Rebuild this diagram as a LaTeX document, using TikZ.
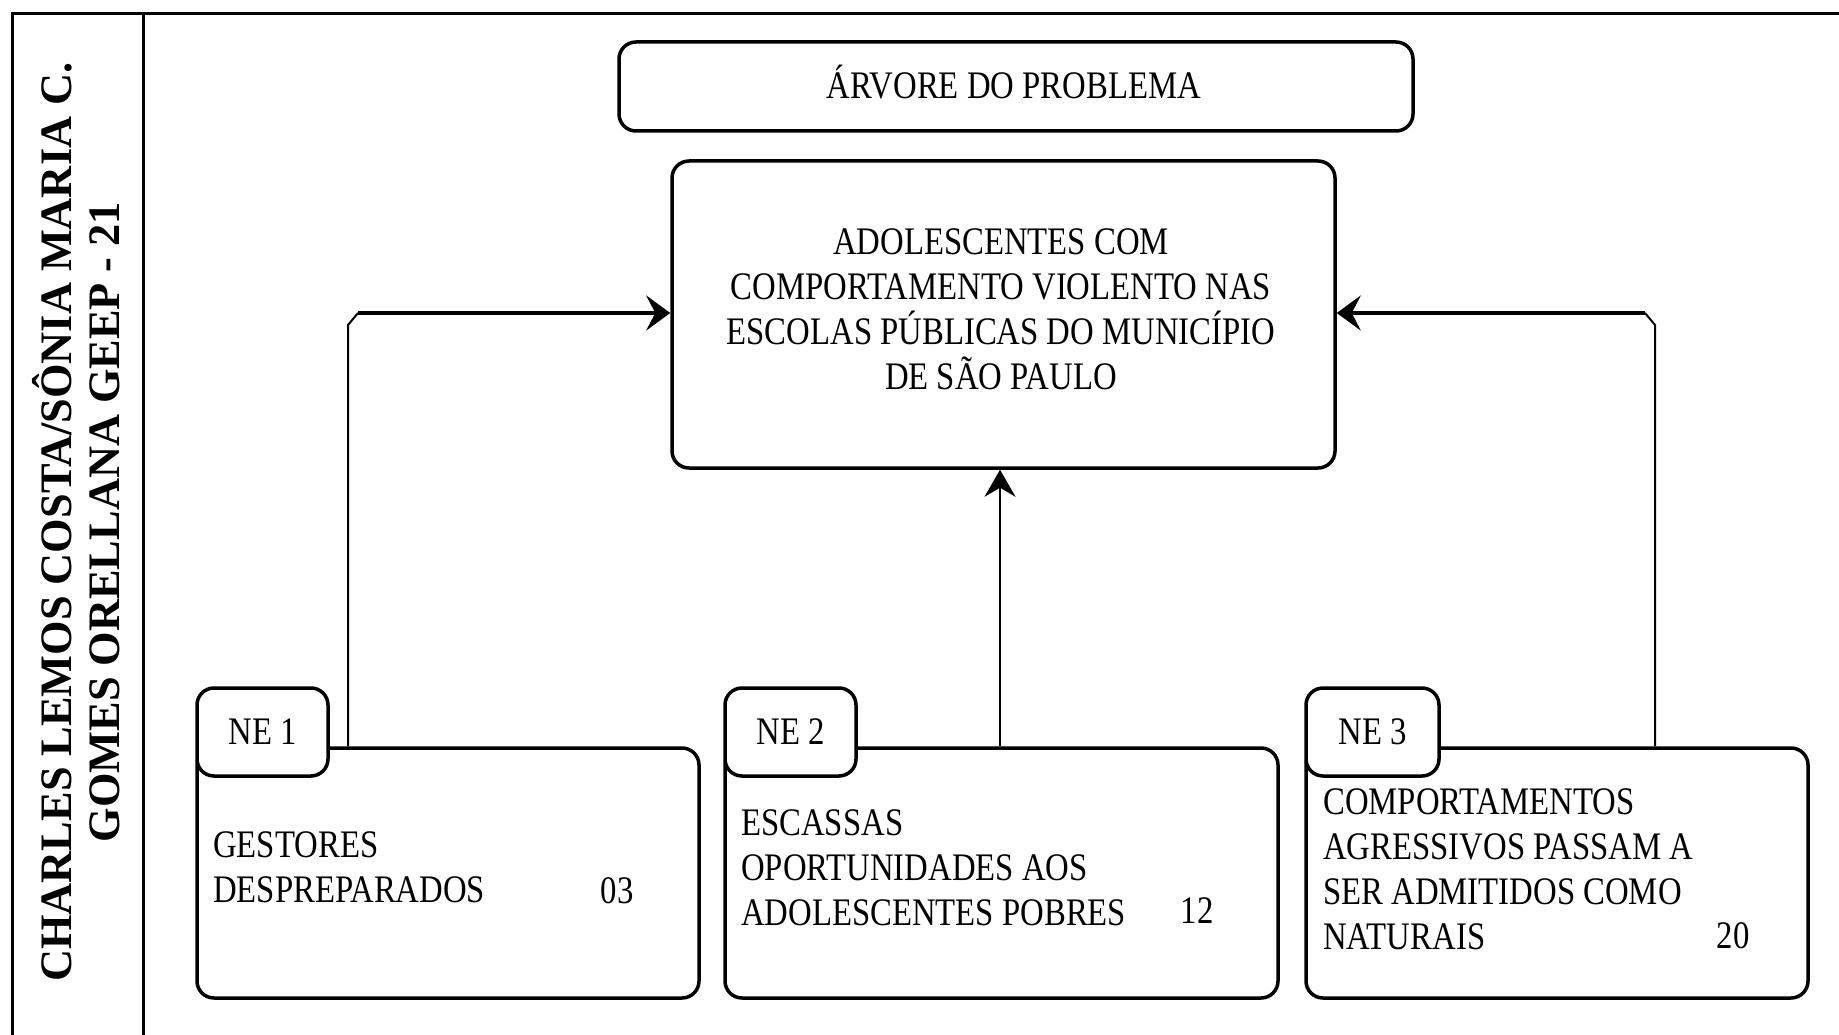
\documentclass[tikz,border=0pt]{standalone}
\usepackage{fontspec}
\setmainfont{Liberation Serif}
\newfontfamily\boxfont[FakeStretch=0.84]{Liberation Serif}
\newfontfamily\sidefont[FakeStretch=0.985]{Liberation Serif}
\usetikzlibrary{arrows.meta}
\begin{document}
\begin{tikzpicture}[x=1pt,y=-1pt,
  box/.style={draw, line width=3.5pt, rounded corners=17pt, inner sep=0pt, fill=white},
  txt/.style={font=\boxfont\fontsize{39}{45}\selectfont},
  thinline/.style={line width=2pt},
  thickline/.style={line width=4.5pt},
  tip/.style={-{Stealth[length=24pt,width=35pt,inset=9pt]}},
  frameline/.style={line width=3pt}
]
\useasboundingbox (0,0) rectangle (1839,1035);
% frame
\draw[frameline] (1839,14) -- (12,14) -- (12,1035);
\draw[frameline] (143,14) -- (143,1035);
\node[rotate=90, align=center, inner sep=0pt, font=\sidefont\bfseries\fontsize{45}{48}\selectfont] (side) at (76,522)
  {CHARLES LEMOS COSTA/SÔNIA MARIA C.\\GOMES ORELLANA GEEP - 21};
% title and main
\node[box, minimum width=794pt, minimum height=89pt] (title) at (1016,86.5) {};
\node[txt, inner sep=0pt] (titletext) at (1014,82) {ÁRVORE DO PROBLEMA};
\node[box, minimum width=663pt, minimum height=307pt] (main) at (1003.5,314.5) {};
\node[txt, align=center, inner sep=0pt] (maintext) at (1001,309)
  {ADOLESCENTES COM\\COMPORTAMENTO VIOLENTO NAS\\ESCOLAS PÚBLICAS DO MUNICÍPIO\\DE SÃO PAULO};
% bottom boxes
\node[box, minimum width=502pt, minimum height=250pt] (ne1) at (448,873) {};
\node[box, txt, minimum width=131pt, minimum height=88pt] (tab1) at (262.5,732) {NE 1};
\node[box, minimum width=553pt, minimum height=250pt] (ne2) at (1001.5,873) {};
\node[box, txt, minimum width=131pt, minimum height=88pt] (tab2) at (790.5,732) {NE 2};
\node[box, minimum width=502pt, minimum height=250pt] (ne3) at (1557,873) {};
\node[box, txt, minimum width=133pt, minimum height=88pt] (tab3) at (1372.5,732) {NE 3};
% texts
\node[txt, anchor=west, align=left, inner sep=0pt] (t1) at (213,867.5) {GESTORES\\DESPREPARADOS};
\node[txt, inner sep=0pt] (n1) at (617,891) {03};
\node[txt, anchor=west, align=left, inner sep=0pt] (t2) at (741,867.5) {ESCASSAS\\OPORTUNIDADES AOS\\ADOLESCENTES POBRES};
\node[txt, inner sep=0pt] (n2) at (1197,911) {12};
\node[txt, anchor=west, align=left, inner sep=0pt] (t3) at (1323,869) {COMPORTAMENTOS\\AGRESSIVOS PASSAM A\\SER ADMITIDOS COMO\\NATURAIS};
\node[txt, inner sep=0pt] (n3) at (1733,936) {20};
% connectors
\coordinate (k1) at (348,313);
\coordinate (k3) at (1655,313);
\coordinate (k2) at (1000,468);
\draw[thinline] (ne1.north -| k1) -- ([yshift=-12pt]k1) -- ([xshift=10pt]k1);
\draw[thickline, tip] ([xshift=10pt]k1) -- (k1 -| main.west);
\draw[thinline] (ne3.north -| k3) -- ([yshift=-12pt]k3) -- ([xshift=-10pt]k3);
\draw[thickline, tip] ([xshift=-10pt]k3) -- (k3 -| main.east);
\draw[thinline, -{Stealth[length=27pt,width=31pt,inset=9pt]}] (ne2.north -| k2) -- (k2 |- main.south);
\end{tikzpicture}
\end{document}
